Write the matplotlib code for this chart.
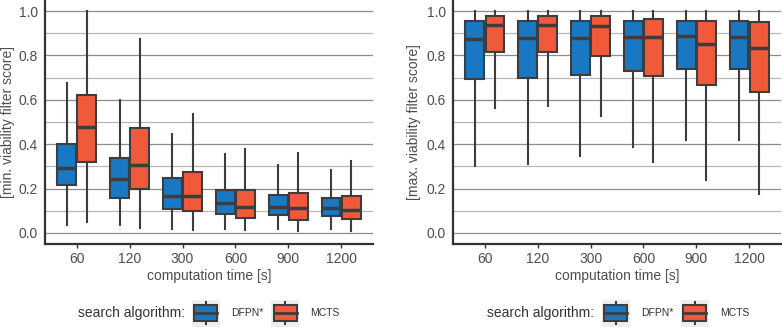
import matplotlib
matplotlib.use("Agg")
import matplotlib.pyplot as plt
from matplotlib.patches import Rectangle
from matplotlib.lines import Line2D
from matplotlib.legend_handler import HandlerBase

plt.rcParams['font.family'] = ['Liberation Sans', 'DejaVu Sans']

times = ['60', '120', '300', '600', '900', '1200']
algos = ['DFPN*', 'MCTS']
colors = {'DFPN*': '#1a78c2', 'MCTS': '#f05a3a'}

# five-number summaries per time: (whisker low, q1, median, q3, whisker high)
min_dfpn = [(0.038, 0.214, 0.293, 0.401, 0.674),
            (0.038, 0.158, 0.241, 0.338, 0.598),
            (0.017, 0.108, 0.167, 0.247, 0.445),
            (0.017, 0.087, 0.137, 0.195, 0.358),
            (0.017, 0.081, 0.119, 0.173, 0.308),
            (0.017, 0.075, 0.111, 0.158, 0.283)]
min_mcts = [(0.050, 0.322, 0.477, 0.623, 1.000),
            (0.024, 0.197, 0.308, 0.471, 0.872),
            (0.011, 0.099, 0.165, 0.275, 0.538),
            (0.011, 0.069, 0.119, 0.195, 0.380),
            (0.008, 0.060, 0.113, 0.182, 0.361),
            (0.008, 0.062, 0.102, 0.165, 0.323)]
max_dfpn = [(0.302, 0.693, 0.874, 0.955, 1.0),
            (0.313, 0.698, 0.877, 0.955, 1.0),
            (0.346, 0.713, 0.880, 0.956, 1.0),
            (0.389, 0.731, 0.884, 0.956, 1.0),
            (0.420, 0.740, 0.887, 0.956, 1.0),
            (0.421, 0.741, 0.884, 0.956, 1.0)]
max_mcts = [(0.561, 0.814, 0.937, 0.980, 1.0),
            (0.573, 0.817, 0.937, 0.980, 1.0),
            (0.525, 0.797, 0.931, 0.977, 1.0),
            (0.319, 0.707, 0.884, 0.964, 1.0),
            (0.239, 0.669, 0.851, 0.956, 1.0),
            (0.174, 0.635, 0.833, 0.949, 1.0)]

edge = '#3d3d3d'
txt = '#4d4d4d'


def stats(rows):
    return [dict(whislo=a, q1=b, med=c, q3=d, whishi=e, fliers=[]) for a, b, c, d, e in rows]


def draw_panel(ax, dfpn, mcts, ylabel):
    for rows, algo, off in [(dfpn, 'DFPN*', -0.19), (mcts, 'MCTS', 0.19)]:
        pos = [i + 1 + off for i in range(len(times))]
        ax.bxp(stats(rows), positions=pos, widths=0.35, patch_artist=True,
               showcaps=False, showfliers=False,
               boxprops=dict(facecolor=colors[algo], edgecolor=edge, linewidth=1.5),
               whiskerprops=dict(color=edge, linewidth=1.5),
               medianprops=dict(color=edge, linewidth=2.5, solid_capstyle='butt'),
               zorder=3)
    ax.set_xlim(0.4, 6.6)
    ax.set_ylim(-0.05, 1.05)
    ax.set_xticks(range(1, len(times) + 1))
    ax.set_xticklabels(times)
    ax.set_yticks([0, 0.2, 0.4, 0.6, 0.8, 1.0])
    ax.set_yticklabels(['0.0', '0.2', '0.4', '0.6', '0.8', '1.0'])
    ax.set_yticks([0.1, 0.3, 0.5, 0.7, 0.9], minor=True)
    ax.grid(axis='y', which='major', color='#8c8c8c', linewidth=0.9, zorder=0)
    ax.grid(axis='y', which='minor', color='#b8b8b8', linewidth=0.9, zorder=0)
    ax.set_axisbelow(True)
    for s in ['top', 'right']:
        ax.spines[s].set_visible(False)
    for s in ['left', 'bottom']:
        ax.spines[s].set_color('#333333')
        ax.spines[s].set_linewidth(1.6)
    ax.tick_params(axis='x', length=3, width=1, color='#333333', labelsize=10, labelcolor=txt, pad=3)
    ax.tick_params(axis='y', length=0, labelsize=10, labelcolor=txt, pad=5)
    ax.tick_params(axis='y', which='minor', length=0)
    ax.set_xlabel('computation time [s]', fontsize=10, color=txt, labelpad=2)
    ax.set_ylabel(ylabel, fontsize=10, color=txt)


class BoxKey(HandlerBase):
    # ggplot-style boxplot key on a light grey square
    def create_artists(self, legend, orig_handle, xdescent, ydescent,
                       width, height, fontsize, trans):
        x0 = -xdescent
        cy = -ydescent + height / 2
        h = width * 0.96
        y0 = cy - h / 2
        bg = Rectangle((x0, y0), width, h, facecolor='#efefef', edgecolor='none', transform=trans)
        cx = x0 + width / 2
        wh = Line2D([cx, cx], [y0 + h * 0.08, y0 + h * 0.92], color=edge, linewidth=1.5, transform=trans)
        box = Rectangle((x0 + width * 0.09, y0 + h * 0.22), width * 0.82, h * 0.56,
                        facecolor=orig_handle, edgecolor=edge, linewidth=1.5, transform=trans)
        med = Line2D([x0 + width * 0.09, x0 + width * 0.91], [cy, cy],
                     color=edge, linewidth=2, transform=trans)
        return [bg, wh, box, med]


fig = plt.figure(figsize=(7.82, 3.28), dpi=100)
ax1 = fig.add_axes([0.0575, 0.256, 0.4194, 0.744])
ax2 = fig.add_axes([0.5793, 0.256, 0.4194, 0.744])
draw_panel(ax1, min_dfpn, min_mcts, '[min. viability filter score]')
draw_panel(ax2, max_dfpn, max_mcts, '[max. viability filter score]')
ax1.yaxis.set_label_coords(-0.092, 0.5)
ax2.yaxis.set_label_coords(-0.097, 0.5)

handles = [colors[a] for a in algos]
for cx, tx in [(0.340, 0.237), (0.864, 0.759)]:
    fig.legend(handles, algos, handler_map={str: BoxKey()}, ncol=2, loc='center',
               bbox_to_anchor=(cx, 0.0457), frameon=False, fontsize=7.5,
               labelcolor='#333333', handlelength=2.7, handleheight=1.5,
               handletextpad=1.1, columnspacing=0.7, borderpad=0)
    fig.text(tx, 0.0457, 'search algorithm:', ha='right', va='center', fontsize=10, color='#333333')

fig.savefig('out.png', dpi=100)
